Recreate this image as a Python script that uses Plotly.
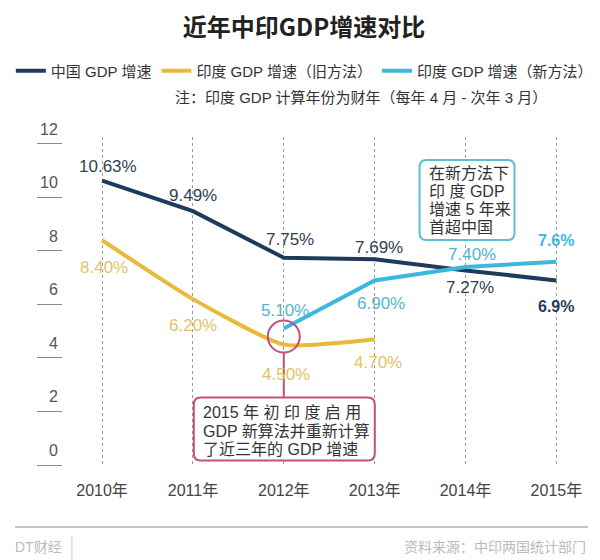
import plotly.graph_objects as go

# ---------------- data ----------------
years = ["2010年", "2011年", "2012年", "2013年", "2014年", "2015年"]
china = [10.63, 9.49, 7.75, 7.69, 7.27, 6.9]
china_labels = ["10.63%", "9.49%", "7.75%", "7.69%", "7.27%", "6.9%"]
india_old_years = ["2010年", "2011年", "2012年", "2013年"]
india_old = [8.40, 6.20, 4.50, 4.70]
india_old_labels = ["8.40%", "6.20%", "4.50%", "4.70%"]
india_new_years = ["2012年", "2013年", "2014年", "2015年"]
india_new = [5.10, 6.90, 7.40, 7.6]
india_new_labels = ["5.10%", "6.90%", "7.40%", "7.6%"]
y_ticks = [0, 2, 4, 6, 8, 10, 12]
y_tick_text = ["0", "2", "4", "6", "8", "10", "12"]

series_names = ["中国 GDP 增速", "印度 GDP 增速（旧方法）", "印度 GDP 增速（新方法）"]
title_text = "近年中印GDP增速对比"
note_text = "注：印度 GDP 计算年份为财年（每年 4 月 - 次年 3 月）"
pink_note = ["2015 年 初 印 度 启 用", "GDP 新算法并重新计算", "了近三年的 GDP 增速"]
cyan_note = ["在新方法下", "印 度 GDP", "增速 5 年来", "首超中国"]
footer_left = "DT财经"
footer_right = "资料来源：中印两国统计部门"

# ---------------- style ----------------
FONT = "Liberation Sans, Arial, Noto Sans CJK SC, sans-serif"
CJK = "Noto Sans CJK SC, Liberation Sans, sans-serif"
C_CHINA = "#1f3b5c"
C_OLD = "#e8b93a"
C_NEW = "#3cb8de"
L_CHINA = "#2f3f52"
L_OLD = "#e5c266"
L_NEW = "#55b4cc"
PINK = "#c4507a"

fig = go.Figure()
fig.add_trace(go.Scatter(x=years, y=china, mode="lines", name=series_names[0],
                         line=dict(color=C_CHINA, width=4)))
fig.add_trace(go.Scatter(x=india_old_years, y=india_old, mode="lines", name=series_names[1],
                         line=dict(color=C_OLD, width=4, shape="spline", smoothing=0.5)))
fig.add_trace(go.Scatter(x=india_new_years, y=india_new, mode="lines", name=series_names[2],
                         line=dict(color=C_NEW, width=4)))

# value labels (pixel offsets are style)
china_off = [(6, 14), (0, 16), (6, 18), (4, 12), (4, -17), (0, -26)]
old_off = [(2, -27), (0, -26), (2, -30), (3, -23)]
new_off = [(1, 18), (6, -23), (6, 13), (0, 21)]
ann = []
def add_labels(xs, ys, texts, offs, color, bold_last=False):
    for i, (x, y, t, (dx, dy)) in enumerate(zip(xs, ys, texts, offs)):
        bold = bold_last and i == len(xs) - 1
        ann.append(dict(x=x, y=y, xref="x", yref="y", text=("<b>%s</b>" % t) if bold else t,
                        showarrow=False, xshift=dx, yshift=dy,
                        font=dict(family=FONT, size=16 if bold else 17,
                                  color=color if not bold else (C_CHINA if color == L_CHINA else C_NEW))))
add_labels(years, china, china_labels, china_off, L_CHINA, bold_last=True)
add_labels(india_old_years, india_old, india_old_labels, old_off, L_OLD)
add_labels(india_new_years, india_new, india_new_labels, new_off, L_NEW, bold_last=True)

# pink callout anchored at the 2012 switch point
pink_x = india_new_years[0]
pink_y = (india_old[2] + india_new[0]) / 2
# cyan callout anchored at the 2014 new-method point
cyan_x = india_new_years[2]
cyan_y = india_new[2]

def rrect(x0, y0, x1, y1, r):
    return (f"M {x0+r},{y0} L {x1-r},{y0} Q {x1},{y0} {x1},{y0+r} "
            f"L {x1},{y1-r} Q {x1},{y1} {x1-r},{y1} L {x0+r},{y1} "
            f"Q {x0},{y1} {x0},{y1-r} L {x0},{y0+r} Q {x0},{y0} {x0+r},{y0} Z")

shapes = [
    dict(type="circle", xref="x", yref="y", xsizemode="pixel", ysizemode="pixel",
         xanchor=pink_x, yanchor=pink_y, x0=-16, x1=16, y0=-16, y1=16,
         line=dict(color=PINK, width=2)),
    dict(type="line", xref="x", yref="y", xsizemode="pixel", ysizemode="pixel",
         xanchor=pink_x, yanchor=pink_y, x0=0, x1=0, y0=-16, y1=-61,
         line=dict(color=PINK, width=2)),
    dict(type="path", xref="x", yref="y", xsizemode="pixel", ysizemode="pixel",
         xanchor=pink_x, yanchor=pink_y, path=rrect(-90, -124, 91, -61, 7),
         line=dict(color=PINK, width=2), fillcolor="white"),
    dict(type="path", xref="x", yref="y", xsizemode="pixel", ysizemode="pixel",
         xanchor=cyan_x, yanchor=cyan_y, path=rrect(-46, 27, 49, 107, 7),
         line=dict(color="#5bbfd2", width=2), fillcolor="white"),
    # footer rule and separator
    dict(type="line", xref="paper", yref="paper", x0=-0.091, x1=0.996, y0=-0.189, y1=-0.189,
         line=dict(color="#b0b0b0", width=1.5)),
    dict(type="line", xref="paper", yref="paper", x0=0.017, x1=0.017, y0=-0.215, y1=-0.29,
         line=dict(color="#cccccc", width=1)),
]

for i, t in enumerate(pink_note):
    ann.append(dict(x=pink_x, y=pink_y, xref="x", yref="y", text=t, showarrow=False,
                    xanchor="left", yanchor="middle", xshift=-83, yshift=-76 - 18.5 * i,
                    font=dict(family=FONT, size=16, color="#333333")))
for i, t in enumerate(cyan_note):
    ann.append(dict(x=cyan_x, y=cyan_y, xref="x", yref="y", text=t, showarrow=False,
                    xanchor="left", yanchor="middle", xshift=-39, yshift=94 - 18 * i,
                    font=dict(family=FONT, size=16, color="#333333")))

ann.append(dict(x=0.565, y=1.119, xref="paper", yref="paper", text=note_text, showarrow=False,
                xanchor="center", yanchor="middle",
                font=dict(family=FONT, size=15, color="#333333")))
ann.append(dict(x=-0.095, y=-0.25, xref="paper", yref="paper", text=footer_left, showarrow=False,
                xanchor="left", yanchor="middle", font=dict(family=FONT, size=14, color="#bbbbbb")))
ann.append(dict(x=0.996, y=-0.25, xref="paper", yref="paper", text=footer_right, showarrow=False,
                xanchor="right", yanchor="middle", font=dict(family=FONT, size=14, color="#bbbbbb")))

# the page body adds an 8px margin, so the figure is sized to fit the window
W, H = 592, 552
fig.update_layout(
    width=W, height=H,
    margin=dict(l=55, r=10, t=129, b=95, autoexpand=False),
    paper_bgcolor="white", plot_bgcolor="white",
    title=dict(text="<b>" + title_text + "</b>", x=0.5, xref="container", xanchor="center",
               y=1 - 20 / H, yref="container", yanchor="middle",
               font=dict(family=CJK, size=24, color="#222222")),
    legend=dict(orientation="h", xref="paper", yref="paper", x=-0.099, y=1.201,
                xanchor="left", yanchor="middle", font=dict(family=FONT, size=15, color="#333333"),
                itemwidth=30, tracegroupgap=0, bgcolor="rgba(0,0,0,0)"),
    showlegend=True,
    annotations=ann,
    shapes=shapes,
    xaxis=dict(type="category", categoryorder="array", categoryarray=years, range=[-0.43, 5.37],
               showgrid=True, gridcolor="#9a9a9a", griddash="dot", gridwidth=1,
               showline=False, zeroline=False, ticks="", ticklabelstandoff=14,
               tickfont=dict(family=FONT, size=16, color="#444444")),
    yaxis=dict(range=[0, 12.26], tickvals=y_ticks, ticktext=y_tick_text, showgrid=False,
               zeroline=False, showline=False, ticks="outside", ticklen=25, tickwidth=1.2,
               tickcolor="#8a8a8a", ticklabelshift=-15, ticklabelstandoff=-24,
               tickfont=dict(family=FONT, size=16, color="#555555")),
)

fig.write_html("out.html")
